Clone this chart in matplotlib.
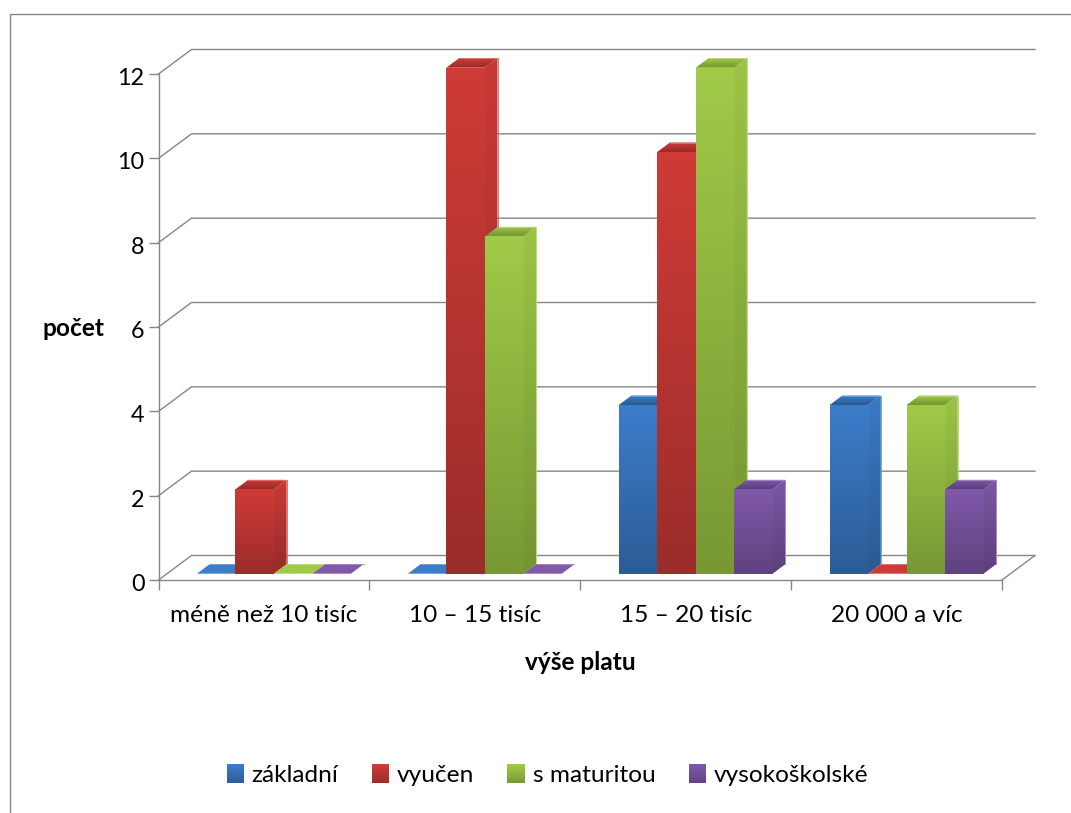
import numpy as np
import matplotlib
matplotlib.use("Agg")
import matplotlib.pyplot as plt
from matplotlib.colors import to_rgb
from matplotlib.legend_handler import HandlerBase
from matplotlib.lines import Line2D
from matplotlib.patches import Patch, Polygon, Rectangle
from matplotlib.transforms import Affine2D

plt.rcParams['font.family'] = ['Lato', 'DejaVu Sans']

# --- data ---
categories = ["méně než 10 tisíc", "10 – 15 tisíc", "15 – 20 tisíc", "20 000 a víc"]
series_names = ["základní", "vyučen", "s maturitou", "vysokoškolské"]
zakladni = [0, 0, 4, 4]
vyucen = [2, 12, 10, 0]
s_maturitou = [0, 8, 12, 4]
vysokoskolske = [0, 0, 2, 2]
y_ticks = [0, 2, 4, 6, 8, 10, 12]

# --- style ---
series_values = [zakladni, vyucen, s_maturitou, vysokoskolske]
top_colors = ["#3C7DCA", "#CF3B37", "#A0CA48", "#8059A9"]
bot_colors = ["#2C5C96", "#9B2D2A", "#789834", "#5F427F"]
GREY = "#868686"
W, H = 1071, 813
AX_L, AX_R, AX_T, AX_B = 158.5, 1002.0, 74.0, 580.0
BAR_W = 0.1825
WALL_DX, WALL_DY = 33 / 211, 24.5 / 42.17
DEPTH_X, DEPTH_Y = 12.7 / 211, 9.5 / 42.17
BASE_Y = 0.15
FS_TICK = 16.8
FS_TEXT = 17.6

fig = plt.figure(figsize=(W / 100, H / 100), dpi=100, facecolor="white")
ax = fig.add_axes([AX_L / W, 1 - AX_B / H, (AX_R - AX_L) / W, (AX_B - AX_T) / H])
ax.set_facecolor("none")


def mix(c1, c2, t):
    return tuple((1 - t) * a + t * b for a, b in zip(to_rgb(c1), to_rgb(c2)))


def gradient_poly(verts, c_up, c_down, z):
    """Fill a polygon with a vertical gradient from c_up (upper edge) to c_down (lower edge)."""
    xs, ys = zip(*verts)
    grad = np.array([mix(c_up, c_down, t) for t in np.linspace(0, 1, 64)]).reshape(64, 1, 3)
    im = ax.imshow(grad, extent=[min(xs), max(xs), min(ys), max(ys)], aspect="auto",
                   origin="upper", interpolation="bilinear", zorder=z)
    clip = Polygon(verts, closed=True, transform=ax.transData, facecolor="none", edgecolor="none")
    im.set_clip_path(clip)
    im.set_clip_box(fig.bbox)
    return im


# gridlines on the walls
for v in y_ticks:
    ax.plot([0, WALL_DX, 4 + WALL_DX], [v, v + WALL_DY, v + WALL_DY], color=GREY, lw=1.0,
            clip_on=False, zorder=1, solid_joinstyle="miter")
ax.plot([4, 4 + WALL_DX], [0, WALL_DY], color=GREY, lw=1.0, clip_on=False, zorder=1)

# bars
z = 3.0
for s, vals in enumerate(series_values):
    ct, cb = top_colors[s], bot_colors[s]
    for i, v in enumerate(vals):
        x0 = i + BAR_W * (s + 1)
        x1 = x0 + BAR_W
        top = BASE_Y + v
        if v > 0:
            # side face
            side = [(x1, BASE_Y), (x1 + DEPTH_X, BASE_Y + DEPTH_Y),
                    (x1 + DEPTH_X, top + DEPTH_Y), (x1, top)]
            gradient_poly(side, mix(ct, "#000000", 0.03), mix(cb, "#000000", 0.03), z)
            # front face
            ax.bar(x0, v, BAR_W, bottom=BASE_Y, align="edge", color=ct, lw=0,
                   zorder=z + 0.1, clip_on=False)
            grad = np.array([mix(ct, cb, t) for t in np.linspace(0, 1, 64)]).reshape(64, 1, 3)
            ax.imshow(grad, extent=[x0, x1, BASE_Y, top], aspect="auto", origin="upper",
                      interpolation="bilinear", zorder=z + 0.2, clip_on=False)
            # highlight on the back vertical edge
            ax.plot([x1 + DEPTH_X] * 2, [BASE_Y + DEPTH_Y, top + DEPTH_Y], lw=0.7,
                    color=mix(ct, "#FFFFFF", 0.3), zorder=z + 0.3, clip_on=False)
        # top face
        roof = [(x0, top), (x1, top), (x1 + DEPTH_X, top + DEPTH_Y), (x0 + DEPTH_X, top + DEPTH_Y)]
        gradient_poly(roof, ct, mix(cb, "#000000", 0.03) if v > 0 else ct, z + 0.4)
        ax.plot([x0 + DEPTH_X, x1 + DEPTH_X], [top + DEPTH_Y] * 2, lw=0.6,
                color=mix(ct, "#FFFFFF", 0.3), zorder=z + 0.5, clip_on=False)
        z += 1

# axes
ax.set_xlim(0, 4)
ax.set_ylim(0, 12)
for side in ("top", "right"):
    ax.spines[side].set_visible(False)
for side in ("left", "bottom"):
    ax.spines[side].set_color(GREY)
    ax.spines[side].set_linewidth(1.0)
    ax.spines[side].set_zorder(2)
ax.set_yticks(y_ticks)
ax.set_yticklabels([str(v) for v in y_ticks], fontsize=FS_TICK, color="black")
ax.tick_params(axis="y", length=7, width=1.0, color=GREY, pad=3)
ax.set_xticks(range(5))
ax.set_xticklabels([])
ax.tick_params(axis="x", which="major", length=7.5, width=1.0, color=GREY)
ax.set_xticks(np.arange(len(categories)) + 0.5, minor=True)
ax.set_xticklabels(categories, minor=True, fontsize=FS_TEXT, color="black")
ax.tick_params(axis="x", which="minor", length=0, pad=18)

ax.set_ylabel("počet", rotation=0, fontsize=FS_TEXT, fontweight="bold", ha="center", va="center")
ax.yaxis.set_label_coords((73 - AX_L) / (AX_R - AX_L), (AX_B - 329) / (AX_B - AX_T))
ax.set_xlabel("výše platu", fontsize=FS_TEXT, fontweight="bold", ha="center", va="center")
ax.xaxis.set_label_coords(0.5, (AX_B - 662) / (AX_B - AX_T))

for lab in ax.get_yticklabels():
    lab.set_transform(lab.get_transform() + Affine2D().translate(0, -2.5))


# legend with gradient keys
class GradientHandler(HandlerBase):
    def create_artists(self, legend, orig, xd, yd, width, height, fontsize, trans):
        ct, cb = orig.get_facecolor(), orig.get_edgecolor()
        n = 17
        out = []
        for k in range(n):
            c = mix(cb[:3], ct[:3], (k + 0.5) / n)
            out.append(Rectangle((-xd, -yd + k * height / n), width, height / n + 0.2,
                                 facecolor=c, edgecolor="none", transform=trans))
        return out


handles = [Patch(facecolor=t, edgecolor=b) for t, b in zip(top_colors, bot_colors)]
fig.legend(handles, series_names, handler_map={Patch: GradientHandler()},
           loc="center", bbox_to_anchor=(547.5 / W, 1 - 775.5 / H), ncol=4, frameon=False,
           fontsize=FS_TEXT, handlelength=0.7, handleheight=0.78, handletextpad=0.33,
           columnspacing=1.36, labelcolor="black", borderpad=0)

# chart frame
fig.add_artist(Line2D([9.5 / W, 9.5 / W, 1], [0, 1 - 14 / H, 1 - 14 / H], color=GREY, lw=1.0,
                      transform=fig.transFigure, solid_joinstyle="miter"))

fig.savefig("out.png", dpi=100, facecolor="white")
